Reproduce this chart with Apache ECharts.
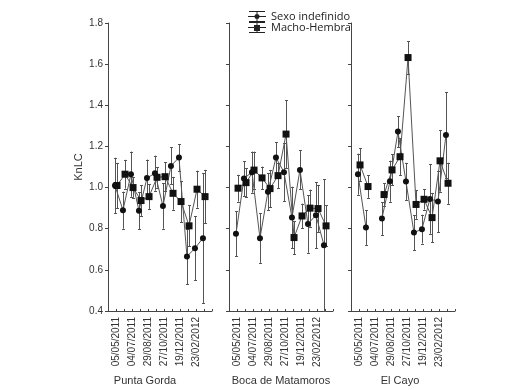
<!DOCTYPE html>
<html>
<head>
<meta charset="utf-8">
<script src="https://cdn.jsdelivr.net/npm/echarts@6/dist/echarts.min.js"></script>
<style>
html, body { margin: 0; padding: 0; background: #fff; }
#chart { width: 528px; height: 390px; }
</style>
</head>
<body>
<div id="chart"></div>
<script>
// fechas de muestreo rotuladas (una de cada dos)
const tickLabels = ['05/05/2011', '04/07/2011', '29/08/2011', '27/10/2011', '19/12/2011', '23/02/2012'];
const sites = ['Punta Gorda', 'Boca de Matamoros', 'El Cayo'];

// Punta Gorda
const pgIndef = [1.01, 0.89, 1.065, 0.887, 1.046, 1.07, 0.91, 1.105, 1.146, 0.665, 0.705, 0.754];
const pgIndefErr = [0.135, 0.09, 0.11, 0.09, 0.09, 0.085, 0.11, 0.09, 0.065, 0.135, 0.155, 0.315];
const pgMH = [1.01, 1.065, 1.0, 0.937, 0.956, 1.05, 1.053, 0.972, 0.932, 0.814, 0.992, 0.956];
const pgMHErr = [0.11, 0.07, 0.05, 0.075, 0.06, 0.05, 0.07, 0.08, 0.1, 0.1, 0.09, 0.13];

// Boca de Matamoros
const bmIndef = [0.775, 1.044, 1.075, 0.754, 0.98, 1.146, 1.075, 0.854, 1.086, 0.823, 0.866, 0.72];
const bmIndefErr = [0.11, 0.085, 0.1, 0.12, 0.09, 0.075, 0.14, 0.15, 0.095, 0.14, 0.16, 0.32];
const bmMH = [0.997, 1.024, 1.085, 1.047, 0.995, 1.058, 1.26, 0.757, 0.862, 0.9, 0.898, 0.814];
const bmMHErr = [0.065, 0.07, 0.09, 0.055, 0.09, 0.06, 0.165, 0.08, 0.06, 0.09, 0.115, 0.1];

// El Cayo (sin muestra en la tercera fecha)
const ecIndef = [1.065, 0.806, null, 0.85, 1.031, 1.272, 1.03, 0.781, 0.798, 0.945, 0.932, 1.255];
const ecIndefErr = [0.1, 0.085, null, 0.08, 0.1, 0.075, 0.09, 0.085, 0.07, 0.17, 0.15, 0.21];
const ecMH = [1.11, 1.005, null, 0.966, 1.086, 1.15, 1.632, 0.918, 0.943, 0.854, 1.13, 1.021];
const ecMHErr = [0.08, 0.055, null, 0.055, 0.075, 0.09, 0.08, 0.07, 0.05, 0.12, 0.15, 0.1];

const panels = [
    { indef: pgIndef, indefErr: pgIndefErr, mh: pgMH, mhErr: pgMHErr },
    { indef: bmIndef, indefErr: bmIndefErr, mh: bmMH, mhErr: bmMHErr },
    { indef: ecIndef, indefErr: ecIndefErr, mh: ecMH, mhErr: ecMHErr }
];

const dodge = 0.13;
const lineColor = '#555';
const markColor = '#111';
const font = 'Liberation Sans, Arial, sans-serif';

const iconCircle = 'path://M1,0H17V1H1Z M0,5H18V6H0Z M1,10H17V11H1Z M8.5,0H9.5V11H8.5Z M6.5,5.5A2.5,2.5 0 1,1 11.5,5.5A2.5,2.5 0 1,1 6.5,5.5Z';
const iconSquare = 'path://M1,0H17V1H1Z M0,5H18V6H0Z M1,10H17V11H1Z M8.5,0H9.5V11H8.5Z M6,3H12V9H6Z';

function linePoints(vals, shift) {
    return vals.map((v, i) => [i + 1 + shift, v == null ? '-' : v]);
}

function errPoints(vals, errs, shift) {
    const out = [];
    vals.forEach((v, i) => {
        if (v != null) out.push([i + 1 + shift, v - errs[i], v + errs[i]]);
    });
    return out;
}

function renderErr(params, api) {
    const x = api.value(0);
    const lo = api.coord([x, api.value(1)]);
    const hi = api.coord([x, api.value(2)]);
    const px = Math.round(lo[0]) + 0.5;
    const c = 1.5;
    const st = { stroke: lineColor, lineWidth: 1 };
    return {
        type: 'group',
        children: [
            { type: 'line', shape: { x1: px, y1: lo[1], x2: px, y2: hi[1] }, style: st },
            { type: 'line', shape: { x1: px - c, y1: Math.round(hi[1]) + 0.5, x2: px + c, y2: Math.round(hi[1]) + 0.5 }, style: st },
            { type: 'line', shape: { x1: px - c, y1: Math.round(lo[1]) + 0.5, x2: px + c, y2: Math.round(lo[1]) + 0.5 }, style: st }
        ]
    };
}

const gridLefts = [108, 229, 351];
const grids = [], xAxes = [], yAxes = [], series = [], graphics = [];

panels.forEach((p, k) => {
    grids.push({ left: gridLefts[k], width: 104, top: 23, height: 288 });
    xAxes.push({
        type: 'value', gridIndex: k, min: 0, max: 13, interval: 1,
        splitLine: { show: false },
        axisLine: { lineStyle: { color: '#444', width: 1 } },
        axisTick: { inside: true, length: 2, lineStyle: { color: '#444' } },
        axisLabel: {
            rotate: 90, margin: 6, fontSize: 10, color: '#333', fontFamily: font,
            showMinLabel: true, showMaxLabel: true,
            formatter: v => (v % 2 === 1 && v <= 11) ? tickLabels[(v - 1) / 2] : ''
        }
    });
    yAxes.push({
        type: 'value', gridIndex: k, min: 0.4, max: 1.8, interval: 0.2,
        name: k === 0 ? 'KnLC' : '', nameLocation: 'middle', nameGap: 24,
        nameTextStyle: { fontSize: 11, color: '#333', fontFamily: font },
        splitLine: { show: false },
        axisLine: { show: true, lineStyle: { color: '#444', width: 1 } },
        axisTick: { show: true, length: 3, lineStyle: { color: '#444' } },
        axisLabel: {
            show: k === 0, margin: 5, fontSize: 10, color: '#333', fontFamily: font,
            formatter: v => v.toFixed(1)
        }
    });

    series.push({
        name: 'err-indef-' + k, type: 'custom', xAxisIndex: k, yAxisIndex: k,
        renderItem: renderErr, encode: { x: 0, y: [1, 2] }, z: 1, silent: true,
        data: errPoints(p.indef, p.indefErr, -dodge)
    });
    series.push({
        name: 'err-mh-' + k, type: 'custom', xAxisIndex: k, yAxisIndex: k,
        renderItem: renderErr, encode: { x: 0, y: [1, 2] }, z: 1, silent: true,
        data: errPoints(p.mh, p.mhErr, dodge)
    });
    series.push({
        name: 'Sexo indefinido', type: 'line', xAxisIndex: k, yAxisIndex: k,
        data: linePoints(p.indef, -dodge), connectNulls: false,
        symbol: 'circle', symbolSize: 6, z: 3,
        lineStyle: { color: lineColor, width: 1 },
        itemStyle: { color: markColor, borderWidth: 0 }
    });
    series.push({
        name: 'Macho-Hembra', type: 'line', xAxisIndex: k, yAxisIndex: k,
        data: linePoints(p.mh, dodge), connectNulls: false,
        symbol: 'rect', symbolSize: 7, z: 3,
        lineStyle: { color: lineColor, width: 1 },
        itemStyle: { color: markColor, borderWidth: 0 }
    });

    graphics.push({
        type: 'text',
        x: k === 0 ? 145 : gridLefts[k] + 52 + (k === 2 ? -3 : 0),
        y: 381,
        style: {
            text: sites[k], fill: '#333', fontSize: 11, fontFamily: font,
            textAlign: 'center', textVerticalAlign: 'middle'
        }
    });
});

const chart = echarts.init(document.getElementById('chart'), null, { renderer: 'canvas' });
chart.setOption({
    animation: false,
    backgroundColor: '#fff',
    legend: {
        orient: 'vertical', left: 243, top: 6,
        itemWidth: 18, itemHeight: 11, itemGap: 0,
        textStyle: { fontSize: 11, color: '#222', fontFamily: 'Open Sans, sans-serif' },
        itemStyle: { color: '#222' },
        data: [
            { name: 'Sexo indefinido', icon: iconCircle },
            { name: 'Macho-Hembra', icon: iconSquare }
        ]
    },
    grid: grids,
    xAxis: xAxes,
    yAxis: yAxes,
    series: series,
    graphic: graphics
});
</script>
</body>
</html>
